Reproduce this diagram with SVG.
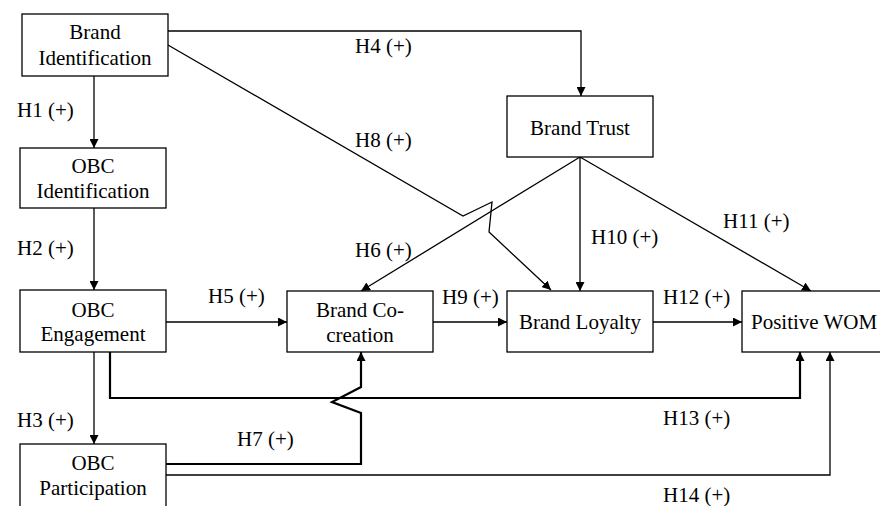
<svg xmlns="http://www.w3.org/2000/svg" width="880" height="506" viewBox="0 0 880 506">
<style>
  .box { fill: #fff; stroke: #000; stroke-width: 1.3; }
  text { font-family: 'Liberation Serif', 'Times New Roman', 'DejaVu Serif', serif; font-size: 21px; fill: #000; }
  .c { text-anchor: middle; }
  .ln { fill: none; stroke: #000; stroke-width: 1.3; }
  .thick { stroke-width: 2.2; }
</style>
<defs>
  <marker id="ah" viewBox="0 0 10 10" refX="10" refY="5" markerWidth="9" markerHeight="9" markerUnits="userSpaceOnUse" orient="auto">
    <path d="M0,0 L10,5 L0,10 z" fill="#000"/>
  </marker>
</defs>
<rect width="880" height="506" fill="#fff"/>
<g id="connectors">
  <path class="ln" d="M94,76 V148" marker-end="url(#ah)"/>
  <path class="ln" d="M94,208 V290" marker-end="url(#ah)"/>
  <path class="ln" d="M94,352 V444" marker-end="url(#ah)"/>
  <path class="ln" d="M168,31 H581 V96" marker-end="url(#ah)"/>
  <path class="ln" d="M168,45 L463,216 L492,202 L489,232 L551,290" marker-end="url(#ah)"/>
  <path class="ln" d="M166,322 H287" marker-end="url(#ah)"/>
  <path class="ln" d="M580,157 L361,291" marker-end="url(#ah)"/>
  <path class="ln" d="M580,157 V291" marker-end="url(#ah)"/>
  <path class="ln" d="M580,157 L811,291" marker-end="url(#ah)"/>
  <path class="ln" d="M433,322 H507" marker-end="url(#ah)"/>
  <path class="ln" d="M653,322 H742" marker-end="url(#ah)"/>
  <path class="ln thick" d="M110,352 V398 H800 V352" marker-end="url(#ah)"/>
  <path class="ln thick" d="M166,464 H361 V413 L332,402 L361,387 V352" marker-end="url(#ah)"/>
  <path class="ln" d="M166,475 H830 V352" marker-end="url(#ah)"/>
</g>
<g id="brand-identification">
  <rect class="box" x="22" y="14" width="146" height="62"/>
  <text class="c" x="95" y="39" font-family="Liberation Serif, serif">Brand</text>
  <text class="c" x="95" y="65" font-family="Liberation Serif, serif">Identification</text>
</g>
<g id="obc-identification">
  <rect class="box" x="20" y="148" width="146" height="60"/>
  <text class="c" x="93" y="173">OBC</text>
  <text class="c" x="93" y="198">Identification</text>
</g>
<g id="obc-engagement">
  <rect class="box" x="20" y="290" width="146" height="62"/>
  <text class="c" x="93" y="317">OBC</text>
  <text class="c" x="93" y="341">Engagement</text>
</g>
<g id="obc-participation">
  <rect class="box" x="20" y="444" width="146" height="70"/>
  <text class="c" x="93" y="470">OBC</text>
  <text class="c" x="93" y="495">Participation</text>
</g>
<g id="brand-trust">
  <rect class="box" x="507" y="96" width="146" height="61"/>
  <text class="c" x="580" y="135">Brand Trust</text>
</g>
<g id="brand-cocreation">
  <rect class="box" x="287" y="291" width="146" height="61"/>
  <text class="c" x="360" y="317">Brand Co-</text>
  <text class="c" x="360" y="342">creation</text>
</g>
<g id="brand-loyalty">
  <rect class="box" x="507" y="291" width="146" height="61"/>
  <text class="c" x="580" y="329">Brand Loyalty</text>
</g>
<g id="positive-wom">
  <rect class="box" x="742" y="291" width="150" height="61"/>
  <text x="751" y="329">Positive WOM</text>
</g>
<g id="labels">
  <text x="17" y="117">H1 (+)</text>
  <text x="17" y="255">H2 (+)</text>
  <text x="17" y="427">H3 (+)</text>
  <text x="355" y="53">H4 (+)</text>
  <text x="208" y="303">H5 (+)</text>
  <text x="355" y="257">H6 (+)</text>
  <text x="237" y="446">H7 (+)</text>
  <text x="355" y="147">H8 (+)</text>
  <text x="442" y="304">H9 (+)</text>
  <text x="591" y="244">H10 (+)</text>
  <text x="723" y="228">H11 (+)</text>
  <text x="663" y="304">H12 (+)</text>
  <text x="663" y="425">H13 (+)</text>
  <text x="663" y="502">H14 (+)</text>
</g>
</svg>
